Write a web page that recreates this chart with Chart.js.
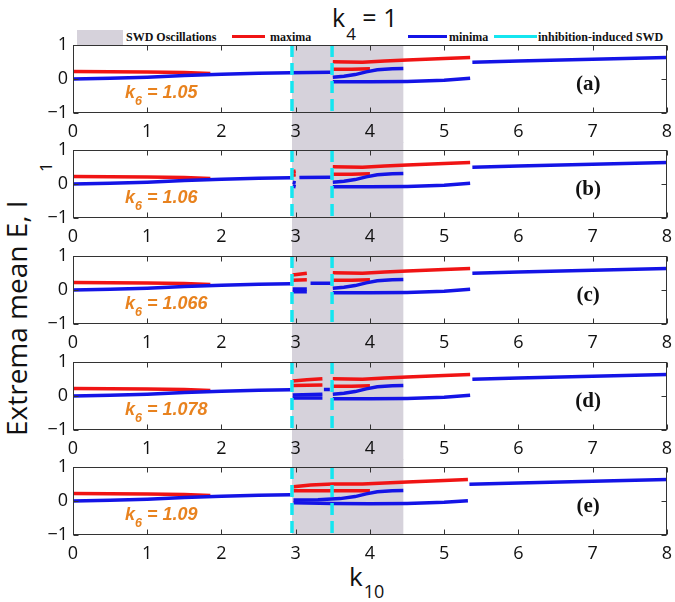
<!DOCTYPE html>
<html><head><meta charset="utf-8">
<script src="https://cdn.jsdelivr.net/npm/chart.js@4.4.0/dist/chart.umd.min.js"></script>
<style>
body{margin:0;background:#fff;width:675px;height:602px;position:relative;overflow:hidden;font-family:"Open Sans",sans-serif;color:#111;}
canvas{position:absolute;left:0;}
.t{position:absolute;white-space:nowrap;line-height:1;}
.leg{font:bold 12px "Liberation Serif",serif;top:30px;}
.ln{position:absolute;height:3px;top:34.5px;}
</style></head><body>
<div id="box" style="position:absolute;left:77px;top:30px;width:46px;height:15px;background:#d6d2db;"></div>
<div class="t leg" style="left:126px;">SWD Oscillations</div>
<div class="ln" style="left:232px;width:33px;background:#f01414;"></div>
<div class="t leg" style="left:270px;">maxima</div>
<div class="ln" style="left:408px;width:39px;background:#1414e6;"></div>
<div class="t leg" style="left:449px;">minima</div>
<div class="ln" style="left:494px;width:43px;background:#14e6f0;"></div>
<div class="t leg" style="left:538px;">inhibition-induced SWD</div>
<div class="t" style="left:332px;top:5px;font-size:25px;">k<span style="font-size:17px;position:relative;top:13px;margin-left:1px;">4</span> = 1</div>
<div class="t" style="left:349px;top:563px;font-size:26px;">k<span style="font-size:18px;position:relative;top:12px;margin-left:1px;">10</span></div>
<div class="t" style="left:27px;top:436px;font-size:28px;transform-origin:0 0;transform:rotate(-90deg) translateY(-25px);">Extrema mean E, I</div>
<div class="t" style="left:37px;top:172px;font-size:17px;transform-origin:0 0;transform:rotate(-90deg);">1</div>
<script>
// ---------- data ----------
const xTicks = [0,1,2,3,4,5,6,7,8];
const yTicks = [-1,0,1];
const panelLetters = ['(a)','(b)','(c)','(d)','(e)'];
const k6Values = ['1.05','1.06','1.066','1.078','1.09'];
const swdBand = [2.95, 4.45];
const swdLines = [2.95, 3.49];

// shared branches  [k10, value]
const maxPre   = [[0,0.22],[0.5,0.215],[1,0.205],[1.5,0.19],[1.85,0.16]];
const minPre   = [[0,0.0],[0.5,0.02],[1,0.05],[1.5,0.1],[2,0.14],[2.5,0.17],[2.93,0.185]];
const maxUpper = [[3.5,0.51],[3.7,0.5],[3.9,0.49],[4.2,0.53],[4.5,0.56],[5,0.6],[5.35,0.63]];
const maxLower = [[3.5,0.29],[3.75,0.29],[4.0,0.3]];
const minRise  = [[3.5,0.05],[3.65,0.08],[3.8,0.13],[3.95,0.21],[4.1,0.27],[4.3,0.3],[4.45,0.31]];
const minLower = [[3.5,-0.08],[4,-0.08],[4.5,-0.07],[5,-0.04],[5.35,0.02]];
const minPost  = [[5.38,0.49],[6,0.53],[7,0.58],[8,0.63]];

// panel (a)
const aMinMid = [[2.93,0.185],[3.2,0.19],[3.47,0.2]];
// panel (b)
const bMaxA = [[2.96,0.36],[3.0,0.38]];
const bMaxB = [[2.96,0.26],[3.0,0.27]];
const bMinA = [[2.96,0.05],[3.0,0.03]];
const bMinB = [[2.96,-0.06],[3.0,-0.08]];
const bMinMid = [[3.05,0.19],[3.47,0.2]];
// panel (c)
const cMaxA = [[2.96,0.44],[3.15,0.49]];
const cMaxB = [[2.96,0.29],[3.15,0.3]];
const cMinA = [[2.96,0.03],[3.15,0.03]];
const cMinB = [[2.96,-0.05],[3.15,-0.05]];
const cMinMid = [[3.2,0.2],[3.47,0.2]];
// panel (d)
const dMaxA = [[2.96,0.44],[3.15,0.48],[3.36,0.51]];
const dMaxB = [[2.96,0.31],[3.36,0.32]];
const dMinA = [[2.96,0.03],[3.36,0.05]];
const dMinB = [[2.96,-0.06],[3.36,-0.06]];
const dMinMid = [[3.38,0.19],[3.46,0.19]];
// panel (e)
const eMaxUpper = [[2.97,0.42],[3.2,0.47],[3.5,0.5],[3.9,0.5],[4.2,0.53],[4.5,0.56],[5,0.6],[5.32,0.63]];
const eMaxLower = [[2.97,0.3],[3.5,0.3],[4.0,0.3]];
const eMinRise  = [[2.97,0.03],[3.3,0.04],[3.6,0.07],[3.8,0.13],[3.95,0.21],[4.1,0.27],[4.3,0.3],[4.45,0.31]];
const eMinLower = [[2.97,-0.05],[3.5,-0.07],[4,-0.08],[4.5,-0.07],[5,-0.04],[5.32,0.01]];
const ePost     = [[5.34,0.49],[6,0.53],[7,0.58],[8,0.63]];

const panels = [
  {max:[maxPre, maxUpper, maxLower], min:[minPre, aMinMid, minRise, minLower, minPost]},
  {max:[maxPre, bMaxA, bMaxB, maxUpper, maxLower], min:[minPre, bMinA, bMinB, bMinMid, minRise, minLower, minPost]},
  {max:[maxPre, cMaxA, cMaxB, maxUpper, maxLower], min:[minPre, cMinA, cMinB, cMinMid, minRise, minLower, minPost]},
  {max:[maxPre, dMaxA, dMaxB, maxUpper, maxLower], min:[minPre, dMinA, dMinB, dMinMid, minRise, minLower, minPost]},
  {max:[maxPre, eMaxUpper, eMaxLower], min:[minPre, eMinRise, eMinLower, ePost]}
];

// ---------- drawing ----------
const RED='#f01414', BLUE='#1414e6', CYAN='#14e6f0', ORANGE='#e8821e', SHADE='#d6d2db';
const pts = a => a.map(([x,y]) => ({x, y}));
const tops = [45,150,256,362,467];
const PLOT_H = 68, PAD_T = 16, AXIS_W = 73, CANVAS_W = 680, XAX_H = 30, SHADE_START = 8;

function panelPlugin(i){
  return {
    id:'panel'+i,
    beforeDraw(chart){
      const {ctx, chartArea:ca, scales:{x}} = chart;
      const x1 = x.getPixelForValue(swdBand[0]), x2 = x.getPixelForValue(swdBand[1]);
      const y1 = i === 0 ? ca.top : SHADE_START;
      const y2 = i === 4 ? ca.bottom : chart.height;
      ctx.save(); ctx.fillStyle = SHADE; ctx.fillRect(x1, y1, x2-x1, y2-y1); ctx.restore();
    },
    afterDraw(chart){
      const {ctx, chartArea:ca, scales:{x, y}} = chart;
      ctx.save();
      ctx.strokeStyle = '#333'; ctx.lineWidth = 1;
      const L = Math.round(ca.left)+0.5, R = Math.round(ca.right)-0.5, T = Math.round(ca.top)+0.5, B = Math.round(ca.bottom)-0.5;
      ctx.strokeRect(L, T, R-L, B-T);
      ctx.beginPath();
      xTicks.forEach(v => { const px = Math.round(x.getPixelForValue(v))+0.5; ctx.moveTo(px,B); ctx.lineTo(px,B-5); ctx.moveTo(px,T); ctx.lineTo(px,T+5); });
      yTicks.forEach(v => { const py = Math.round(y.getPixelForValue(v))+0.5; ctx.moveTo(L,py); ctx.lineTo(L+5,py); ctx.moveTo(R,py); ctx.lineTo(R-5,py); });
      ctx.stroke();
      ctx.fillStyle = '#111'; ctx.font = 'bold 21px "Liberation Serif", serif';
      ctx.textAlign = 'center'; ctx.textBaseline = 'middle';
      ctx.fillText(panelLetters[i], x.getPixelForValue(6.94), y.getPixelForValue(-0.15));
      ctx.fillStyle = ORANGE; ctx.textAlign = 'left'; ctx.textBaseline = 'alphabetic';
      let px = x.getPixelForValue(0.70); const by = y.getPixelForValue(-0.56);
      ctx.font = 'italic bold 18px "Liberation Sans", sans-serif';
      ctx.fillText('k', px, by); px += ctx.measureText('k').width;
      ctx.font = 'italic bold 12.5px "Liberation Sans", sans-serif';
      ctx.fillText('6', px, by+7); px += ctx.measureText('6').width;
      ctx.font = 'italic bold 18px "Liberation Sans", sans-serif';
      ctx.fillText(' = ' + k6Values[i], px, by);
      ctx.restore();
    }
  };
}

panels.forEach((p, i) => {
  const H = PAD_T + PLOT_H + XAX_H;
  const cv = document.createElement('canvas');
  cv.width = CANVAS_W; cv.height = H;
  cv.style.top = (tops[i]-PAD_T) + 'px';
  cv.style.width = CANVAS_W + 'px'; cv.style.height = H + 'px';
  document.body.appendChild(cv);
  const datasets = [];
  swdLines.forEach(v => datasets.push({data: pts([[v,1],[v,-1]]), borderColor: CYAN, borderWidth: 3.5, borderDash:[12,6]}));
  p.min.forEach(a => datasets.push({data: pts(a), borderColor: BLUE}));
  p.max.forEach(a => datasets.push({data: pts(a), borderColor: RED}));
  new Chart(cv, {
    type:'line',
    data:{datasets},
    options:{
      responsive:false, maintainAspectRatio:false, animation:false, events:[], devicePixelRatio:1,
      layout:{padding:{top:PAD_T, right:0, left:0, bottom:0}, autoPadding:false},
      plugins:{legend:{display:false}, tooltip:{enabled:false}},
      elements:{point:{radius:0}, line:{borderWidth:3.5, tension:0}},
      scales:{
        x:{type:'linear', min:0, max:8,
           afterBuildTicks:s => { s.ticks = xTicks.map(v => ({value:v})); },
           afterFit:s => { s.height = XAX_H; },
           grid:{display:false, drawTicks:false}, border:{display:false},
           ticks:{font:{family:'Open Sans', size:18}, color:'#111', padding:8, maxRotation:0, autoSkip:false}},
        y:{type:'linear', min:-1, max:1,
           afterBuildTicks:s => { s.ticks = yTicks.map(v => ({value:v})); },
           afterFit:s => { s.width = AXIS_W; },
           grid:{display:false, drawTicks:false}, border:{display:false},
           ticks:{font:{family:'Open Sans', size:18}, color:'#111', padding:5,
                  callback:v => v < 0 ? '\u2212' + (-v) : String(v)}}
      }
    },
    plugins:[panelPlugin(i)]
  });
});
</script>
</body></html>
